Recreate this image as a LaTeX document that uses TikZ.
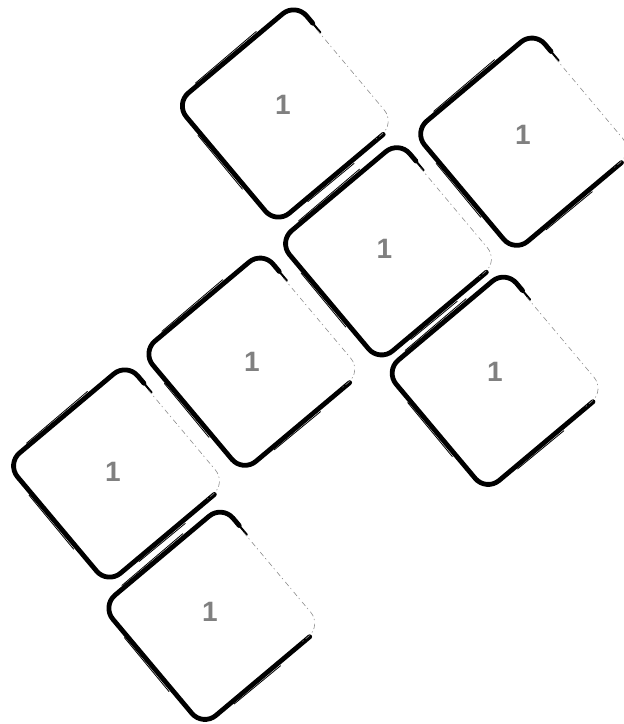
\documentclass[tikz,border=0pt]{standalone}
\usepackage{fontspec}
\setmainfont{Liberation Sans}
\newfontfamily\numfont{Liberation Sans}
\definecolor{numgray}{RGB}{128,128,128}
\tikzset{
  edgeink/.style={line width=4.8pt, black, rounded corners=17pt, line cap=round, line join=round},
  tailink/.style={line width=2pt, black, line cap=round},
  roughink/.style={line width=0.8pt, black, line cap=round},
  faintink/.style={line width=0.6pt, black!45, dash pattern=on 5pt off 3pt on 1pt off 4pt, rounded corners=17pt, line cap=round},
  numlabel/.style={text=numgray, font=\numfont\bfseries\fontsize{28}{28}\selectfont, inner sep=0pt},
}
% name, text x, text y, shape centre x, shape centre y (pixels, y downwards)
\newcommand\sketchtile[5]{%
  \node[numlabel] (#1) at (#2,-#3) {1};
  \begin{scope}[shift={(#4,-#5)}, rotate=40]
    \draw[edgeink] (61,-78.5) -- (-78.5,-78.5) -- (-78.5,78.5) -- (78.5,78.5) -- (78.5,52);
    \draw[tailink] (78.5,54) -- (78.5,40);
    \draw[roughink] (-50,81.5) -- (30,82);
    \draw[roughink] (-81.5,40) -- (-82,-30);
    \draw[roughink] (-40,-81.5) -- (20,-82);
    \draw[faintink] (77.5,44) -- (77.5,-77.5) -- (52,-77.5);
  \end{scope}
}
\begin{document}
\begin{tikzpicture}[x=1pt,y=1pt]
  \useasboundingbox (0,0) rectangle (624,-724);
  \sketchtile{t1}{283}{105}{286}{113.5}
  \sketchtile{t2}{523}{135}{524.3}{141.7}
  \sketchtile{t3}{384.5}{248.5}{389.2}{251.3}
  \sketchtile{t4}{252}{361.7}{252.5}{361.7}
  \sketchtile{t5}{495}{372}{495.8}{380.8}
  \sketchtile{t6}{113}{472}{117.2}{473.5}
  \sketchtile{t7}{210}{612}{212.5}{615.8}
\end{tikzpicture}
\end{document}
